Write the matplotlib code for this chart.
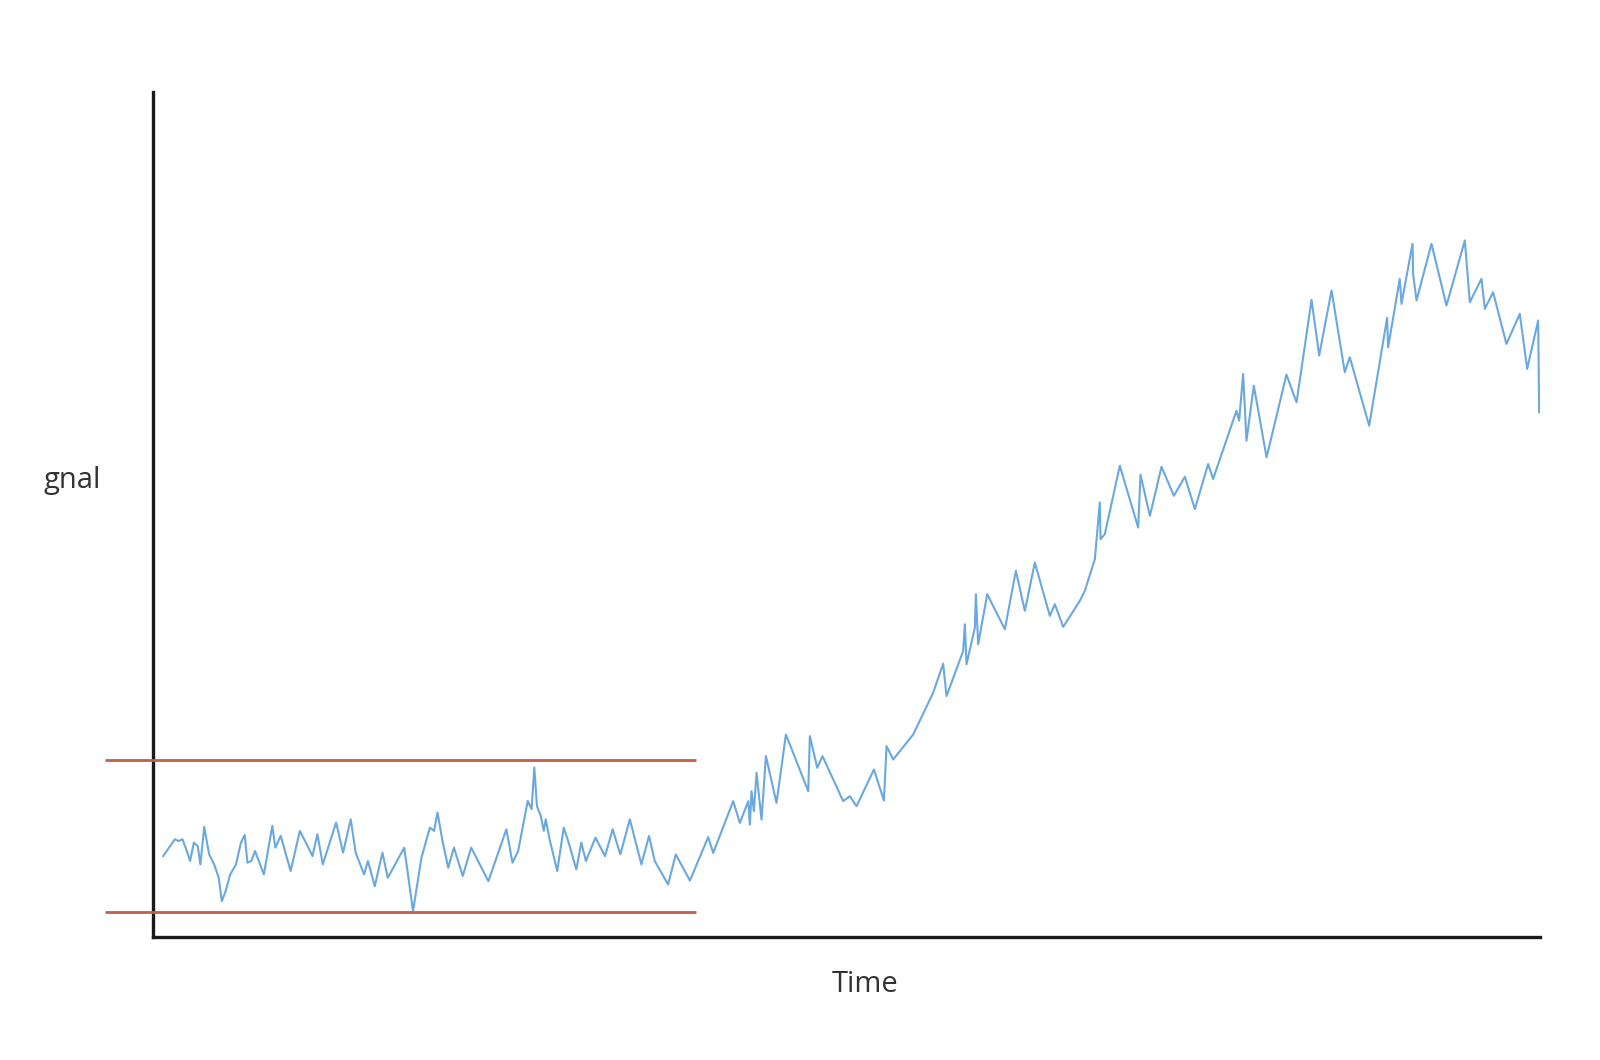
import matplotlib
matplotlib.use("Agg")
import matplotlib.pyplot as plt

# Signal trace (arbitrary time units, arbitrary signal units)
time_x = [10.1, 15.75, 21.4, 25.1, 28.9, 32.6, 36.4, 40.1, 43.9, 46.5, 50.25, 55.1, 60, 64.5, 67.5,
          71.25, 75.75, 81.4, 86.25, 90, 92.6, 96.4, 100.1, 108.75, 117, 120, 125.25, 135, 144, 150.75,
          156.4, 161.25, 166.5, 179.6, 186.4, 193.9, 198.75, 207, 210.75, 217.5, 225, 230.25, 246.4, 255,
          263.25, 271.5, 275.6, 279, 283.9, 289.5, 295.1, 303.75, 312, 328.9, 346.5, 352.5, 358.1, 367.5,
          371.25, 373.9, 376.5, 380.25, 383.25, 385.1, 388.9, 396.4, 402.75, 407.6, 415.1, 420, 424.5,
          433.9, 443.25, 450.75, 458.25, 467.6, 478.9, 486.4, 492, 505.1, 512.6, 526.5,
          544.4, 549.3, 568.9, 575.5, 583.7, 585.3, 586.9, 589.2, 591.8, 596.7, 601.0, 611.4, 620.6, 642.5,
          644.1, 651.3, 656.5, 676.8, 683.3, 689.9, 706.9, 716.7, 719.3, 725.8, 745.4, 765, 774.8, 778.1,
          794.4, 796.1, 797.7, 805.9, 806.9, 809.1, 818, 835.3, 846.1, 854.9, 864.7, 879.4, 884.3, 892.5,
          908.8, 913.7,
          923.5, 928.4, 929.1, 933.3, 948, 966, 968.3, 977.5, 988.9, 1001, 1011.8, 1021.6, 1034.6, 1039.5,
          1062.4, 1065, 1068.9, 1072.2, 1079.4, 1091.9, 1111.4, 1121.3, 1136, 1143.5, 1155.6, 1168.6,
          1173.5, 1192.5, 1210.1, 1211.1, 1222.5, 1224.2, 1235, 1235.6, 1238.9, 1253.6, 1268.3,
          1286.3, 1291.2, 1302.6, 1305.9, 1314, 1327.1, 1340.2, 1347.4, 1358.2, 1359.2]

signal_y = [79.0, 87.2, 95.4, 93.7, 95.4, 85.6, 74.1, 92.1, 88.8, 70.8, 107.5, 80.6, 70.8, 57.7, 34.8,
            44.6, 61, 70.8, 92.1, 99.6, 72.5, 74.1, 83.9, 61, 108.5, 87.2, 98.7, 64.3, 103.6, 90.5,
            79, 100.3, 70.8, 111.8, 82.3, 115, 82.3, 61, 74.1, 49.5, 82.3, 57.7, 87.2, 25,
            77.4, 106.8, 103.6, 121.6, 93.7, 67.5, 87.2, 59.4, 87.2, 54.4, 105.2, 72.5, 83.9, 133,
            124.9, 165.8, 128.1, 118.3, 103.6, 115, 95.4, 64.3, 106.8, 92.1, 65.9, 92.1, 74.1,
            97, 79, 105.2, 80.6, 115, 70.8, 98.7, 74.1, 51.2, 80.6, 55,
            97.5, 82, 132.7, 111.4, 132.7, 109.8, 142.5, 122.9, 160.5, 114.7, 176.8, 131, 198, 142.5,
            196.4, 165.4, 176.8, 132.7, 137.6, 127.8, 163.7, 133.3, 186.6, 173.5, 198, 238.9, 267.3, 235.6,
            279.7, 305.9, 266.7, 302.6, 335.3, 286.3, 335.3, 301, 358.2, 319, 366.3, 314.1, 325.5, 303.3,
            328.8, 338.6,
            369.6, 425.2, 389.2, 394.1, 461.1, 400.6, 452.3, 412.1, 460.1, 431.7, 450.3, 418.6, 462.8, 448.1,
            515, 505.2, 551, 485.6, 539.5, 469.3, 550.3, 523.2, 623.5, 569, 632.7, 552.6,
            567.3, 500.3, 605.9, 577.1, 644.1, 619.6, 678.4, 649, 622.9, 678.4, 618,
            681.7, 621.2, 644.1, 614.7, 631, 580.4, 609.8, 555.9, 603.3, 513.4]

# Control band (red horizontal lines)
band_levels = [173, 24]
band_start = -47
band_end = 532

x_label = "Time"
y_label = "gnal"

fig = plt.figure(figsize=(16, 10.6), dpi=100)
fig.patch.set_facecolor("white")
ax = fig.add_axes([0.0956, 0.1163, 0.8669, 0.7969])

ax.plot(time_x, signal_y, color="#6AA8DE", lw=1.5, solid_joinstyle="round")
for lvl in band_levels:
    ax.hlines(lvl, band_start, band_end, color="#C0604D", lw=2.0, clip_on=False, zorder=3)

ax.set_xlim(0, 1360)
ax.set_ylim(0, 827)
for side in ["top", "right"]:
    ax.spines[side].set_visible(False)
for side in ["left", "bottom"]:
    ax.spines[side].set_color("#1a1a1a")
    ax.spines[side].set_linewidth(2.4)
ax.set_xticks([])
ax.set_yticks([])

fig.text(0.541, 0.071, x_label, ha="center", va="center", fontsize=21,
         family=["Open Sans", "DejaVu Sans"], color="#333333")
fig.text(0.0454, 0.547, y_label, ha="center", va="center", fontsize=21,
         family=["Open Sans", "DejaVu Sans"], color="#333333")

fig.savefig("out.png", dpi=100, facecolor="white")
